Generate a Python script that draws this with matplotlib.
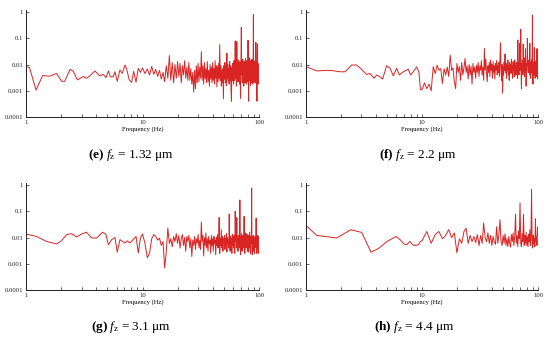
import matplotlib
matplotlib.use("Agg")
import matplotlib.pyplot as plt
from matplotlib.ticker import FixedLocator, NullFormatter

# shared 0.5 Hz grid for panels e, f, g (10 .. 100 Hz)
freq_hi = [
    10.0, 10.5, 11.0, 11.5, 12.0, 12.5, 13.0, 13.5, 14.0, 14.5,
    15.0, 15.5, 16.0, 16.5, 17.0, 17.5, 18.0, 18.5, 19.0, 19.5,
    20.0, 20.5, 21.0, 21.5, 22.0, 22.5, 23.0, 23.5, 24.0, 24.5,
    25.0, 25.5, 26.0, 26.5, 27.0, 27.5, 28.0, 28.5, 29.0, 29.5,
    30.0, 30.5, 31.0, 31.5, 32.0, 32.5, 33.0, 33.5, 34.0, 34.5,
    35.0, 35.5, 36.0, 36.5, 37.0, 37.5, 38.0, 38.5, 39.0, 39.5,
    40.0, 40.5, 41.0, 41.5, 42.0, 42.5, 43.0, 43.5, 44.0, 44.5,
    45.0, 45.5, 46.0, 46.5, 47.0, 47.5, 48.0, 48.5, 49.0, 49.5,
    50.0, 50.5, 51.0, 51.5, 52.0, 52.5, 53.0, 53.5, 54.0, 54.5,
    55.0, 55.5, 56.0, 56.5, 57.0, 57.5, 58.0, 58.5, 59.0, 59.5,
    60.0, 60.5, 61.0, 61.5, 62.0, 62.5, 63.0, 63.5, 64.0, 64.5,
    65.0, 65.5, 66.0, 66.5, 67.0, 67.5, 68.0, 68.5, 69.0, 69.5,
    70.0, 70.5, 71.0, 71.5, 72.0, 72.5, 73.0, 73.5, 74.0, 74.5,
    75.0, 75.5, 76.0, 76.5, 77.0, 77.5, 78.0, 78.5, 79.0, 79.5,
    80.0, 80.5, 81.0, 81.5, 82.0, 82.5, 83.0, 83.5, 84.0, 84.5,
    85.0, 85.5, 86.0, 86.5, 87.0, 87.5, 88.0, 88.5, 89.0, 89.5,
    90.0, 90.5, 91.0, 91.5, 92.0, 92.5, 93.0, 93.5, 94.0, 94.5,
    95.0, 95.5, 96.0, 96.5, 97.0, 97.5, 98.0, 98.5, 99.0, 99.5,
    100.0,
]

# 1 Hz grid for panel h (10 .. 100 Hz)
freq_h_hi = [
    10, 11, 12, 13, 14, 15, 16, 17, 18, 19,
    20, 21, 22, 23, 24, 25, 26, 27, 28, 29,
    30, 31, 32, 33, 34, 35, 36, 37, 38, 39,
    40, 41, 42, 43, 44, 45, 46, 47, 48, 49,
    50, 51, 52, 53, 54, 55, 56, 57, 58, 59,
    60, 61, 62, 63, 64, 65, 66, 67, 68, 69,
    70, 71, 72, 73, 74, 75, 76, 77, 78, 79,
    80, 81, 82, 83, 84, 85, 86, 87, 88, 89,
    90, 91, 92, 93, 94, 95, 96, 97, 98, 99,
    100,
]

# (e) fz = 1.32 um
freq_e_lo = [1.0, 1.07, 1.22, 1.39, 1.61, 1.83, 2.02, 2.15, 2.39, 2.55, 2.76, 3.1, 3.3,
             3.54, 3.9, 4.1, 4.3, 4.6, 4.86, 5.1, 5.3, 5.6, 5.8, 6.07, 6.4, 6.7, 7.07,
             7.3, 7.7, 8.07, 8.4, 8.8, 9.2, 9.6]
amp_e_lo = [0.0083, 0.0078, 0.00107, 0.0038, 0.0036, 0.0046, 0.0023, 0.0023, 0.0066, 0.0055,
            0.0026, 0.0035, 0.003, 0.0037, 0.0057, 0.0046, 0.0037, 0.0042, 0.0032, 0.0057,
            0.0034, 0.0034, 0.0053, 0.0023, 0.0062, 0.0046, 0.0096, 0.0068, 0.0026, 0.0021,
            0.0055, 0.0021, 0.0072, 0.005]
amp_e_hi = [
    0.0075, 0.0045, 0.0068, 0.004, 0.0085, 0.0042, 0.0065, 0.0035, 0.006, 0.0028,
    0.005, 0.0022, 0.009, 0.003, 0.022, 0.0025, 0.012, 0.002, 0.01, 0.003,
    0.013, 0.0035, 0.011, 0.002, 0.009, 0.004, 0.014, 0.003, 0.008, 0.0025,
    0.012, 0.0025, 0.007, 0.0018, 0.005, 0.0009, 0.006, 0.0012, 0.009, 0.002,
    0.011, 0.0022, 0.008, 0.003, 0.031, 0.0025, 0.009, 0.0018, 0.012, 0.0028,
    0.007, 0.002, 0.013, 0.0023, 0.006, 0.0015, 0.01, 0.0028, 0.008, 0.002,
    0.012, 0.0025, 0.007, 0.0018, 0.014, 0.003, 0.009, 0.0014, 0.008, 0.0022,
    0.011, 0.003, 0.058, 0.0025, 0.009, 0.0015, 0.006, 0.002, 0.007, 0.0005,
    0.009, 0.0028, 0.012, 0.002, 0.008, 0.0016, 0.027, 0.003, 0.01, 0.0022,
    0.007, 0.0018, 0.013, 0.0025, 0.009, 0.0012, 0.0004, 0.008, 0.0025, 0.011,
    0.006, 0.0018, 0.014, 0.0025, 0.006, 0.08, 0.003, 0.01, 0.0015, 0.075,
    0.004, 0.011, 0.0022, 0.015, 0.003, 0.009, 0.0018, 0.013, 0.0025, 0.0005,
    0.008, 0.26, 0.004, 0.012, 0.002, 0.016, 0.0028, 0.009, 0.0015, 0.013,
    0.003, 0.011, 0.002, 0.017, 0.0035, 0.008, 0.0018, 0.014, 0.0025, 0.01,
    0.0022, 0.085, 0.003, 0.0004, 0.012, 0.0025, 0.018, 0.003, 0.009, 0.0016,
    0.014, 0.0028, 0.011, 0.002, 0.016, 0.003, 0.009, 0.0018, 0.012, 0.8,
    0.004, 0.0022, 0.013, 0.0025, 0.01, 0.002, 0.012, 0.0026, 0.07, 0.003,
    0.012, 0.002, 0.0004, 0.009, 0.06, 0.0028, 0.011, 0.0018, 0.009, 0.002,
    0.006,
]

# (f) fz = 2.2 um
freq_f_lo = [1.0, 1.24, 1.5, 1.72, 1.96, 2.17, 2.48, 2.73, 3.0, 3.33, 3.56, 3.86, 4.07, 4.3,
             4.58, 4.96, 5.3, 5.66, 6.05, 6.37, 6.9, 7.3, 7.6, 7.98, 8.4, 8.98, 9.4, 9.7]
amp_f_lo = [0.0083, 0.0057, 0.006, 0.0058, 0.0053, 0.0053, 0.0096, 0.0096, 0.0067, 0.0042,
            0.0046, 0.003, 0.004, 0.0035, 0.0028, 0.0091, 0.0072, 0.0037, 0.0072, 0.004,
            0.0053, 0.006, 0.0067, 0.004, 0.0053, 0.0081, 0.0053, 0.0011]
amp_f_hi = [
    0.0011, 0.002, 0.0012, 0.0018, 0.001, 0.0083, 0.0045, 0.0095, 0.006, 0.007,
    0.0019, 0.0068, 0.004, 0.008, 0.0035, 0.023, 0.006, 0.0075, 0.0022, 0.0012,
    0.011, 0.005, 0.0085, 0.0025, 0.012, 0.004, 0.0075, 0.017, 0.005, 0.009,
    0.0028, 0.01, 0.004, 0.0085, 0.0018, 0.011, 0.005, 0.008, 0.003, 0.0095,
    0.005, 0.012, 0.0035, 0.009, 0.006, 0.014, 0.004, 0.008, 0.0025, 0.041,
    0.006, 0.016, 0.0045, 0.0022, 0.009, 0.005, 0.012, 0.0035, 0.015, 0.006,
    0.01, 0.003, 0.013, 0.005, 0.009, 0.0028, 0.011, 0.006, 0.014, 0.004,
    0.009, 0.005, 0.012, 0.0035, 0.018, 0.068, 0.006, 0.0025, 0.01, 0.0008,
    0.008, 0.004, 0.012, 0.006, 0.025, 0.005, 0.009, 0.003, 0.011, 0.006,
    0.015, 0.004, 0.009, 0.0025, 0.012, 0.006, 0.01, 0.0045, 0.016, 0.005,
    0.009, 0.003, 0.013, 0.006, 0.011, 0.0035, 0.015, 0.005, 0.009, 0.004,
    0.012, 0.006, 0.01, 0.003, 0.086, 0.007, 0.012, 0.004, 0.01, 0.064,
    0.006, 0.008, 0.22, 0.005, 0.0012, 0.011, 0.006, 0.014, 0.004, 0.06,
    0.012, 0.005, 0.018, 0.0035, 0.01, 0.006, 0.04, 0.007, 0.0015, 0.011,
    0.006, 0.013, 0.1, 0.009, 0.015, 0.005, 0.011, 0.007, 0.014, 0.004,
    0.064, 0.006, 0.012, 0.003, 0.01, 0.007, 0.015, 0.005, 0.011, 0.77,
    0.005, 0.0018, 0.012, 0.007, 0.009, 0.004, 0.044, 0.006, 0.011, 0.003,
    0.013, 0.006, 0.009, 0.0035, 0.014, 0.005, 0.04, 0.004, 0.0028, 0.012,
    0.04,
]

# (g) fz = 3.1 um
freq_g_lo = [1.0, 1.23, 1.5, 1.83, 2.02, 2.23, 2.47, 2.72, 3.0, 3.3, 3.66, 4.04, 4.55, 4.86,
             5.1, 5.43, 5.8, 6.07, 6.4, 6.75, 7.07, 7.4, 7.8, 8.3, 8.8, 9.2, 9.6]
amp_g_lo = [0.0136, 0.011, 0.0071, 0.0057, 0.0076, 0.013, 0.014, 0.0105, 0.0136, 0.016,
            0.0096, 0.0096, 0.016, 0.013, 0.0053, 0.0083, 0.01, 0.0028, 0.0083, 0.0071,
            0.0062, 0.0075, 0.0062, 0.0083, 0.011, 0.0026, 0.0096]
amp_g_hi = [
    0.0136, 0.006, 0.0017, 0.0026, 0.009, 0.013, 0.011, 0.008, 0.0095, 0.005,
    0.007, 0.0007, 0.003, 0.023, 0.006, 0.009, 0.0045, 0.011, 0.007, 0.014,
    0.006, 0.012, 0.004, 0.009, 0.013, 0.005, 0.01, 0.003, 0.011, 0.007,
    0.012, 0.004, 0.009, 0.0019, 0.008, 0.005, 0.011, 0.0035, 0.009, 0.006,
    0.013, 0.004, 0.008, 0.0035, 0.039, 0.007, 0.012, 0.002, 0.01, 0.005,
    0.015, 0.004, 0.009, 0.003, 0.011, 0.006, 0.008, 0.0025, 0.012, 0.005,
    0.009, 0.003, 0.011, 0.006, 0.008, 0.0022, 0.01, 0.005, 0.013, 0.004,
    0.008, 0.058, 0.0025, 0.009, 0.005, 0.02, 0.004, 0.011, 0.003, 0.009,
    0.006, 0.012, 0.0035, 0.009, 0.005, 0.014, 0.0028, 0.01, 0.006, 0.008,
    0.004, 0.079, 0.005, 0.003, 0.011, 0.006, 0.009, 0.0025, 0.013, 0.005,
    0.01, 0.004, 0.012, 0.006, 0.0025, 0.1, 0.007, 0.011, 0.004, 0.058,
    0.005, 0.009, 0.003, 0.012, 0.006, 0.01, 0.004, 0.27, 0.008, 0.0022,
    0.011, 0.005, 0.014, 0.003, 0.009, 0.006, 0.012, 0.004, 0.01, 0.064,
    0.006, 0.0025, 0.011, 0.005, 0.015, 0.004, 0.009, 0.006, 0.013, 0.003,
    0.01, 0.005, 0.012, 0.0028, 0.009, 0.006, 0.016, 0.004, 0.011, 0.0025,
    0.009, 0.006, 0.013, 0.77, 0.005, 0.0022, 0.011, 0.006, 0.009, 0.003,
    0.012, 0.005, 0.008, 0.0025, 0.01, 0.006, 0.011, 0.004, 0.009, 0.055,
    0.005, 0.0025, 0.01, 0.006, 0.012, 0.004, 0.009, 0.0025, 0.011, 0.006,
    0.008,
]

# (h) fz = 4.4 um
freq_h_lo = [1.0, 1.24, 1.84, 2.43, 3.02, 3.63, 4.2, 5.0, 5.97, 6.47, 7.0, 7.37, 7.87, 8.3,
             8.7, 9.3, 9.7]
amp_h_lo = [0.029, 0.012, 0.0096, 0.0198, 0.0157, 0.0028, 0.0038, 0.0071, 0.011, 0.0083,
            0.0057, 0.0053, 0.0071, 0.0053, 0.005, 0.0053, 0.0071]
amp_h_hi = [
    0.0075, 0.017, 0.006, 0.013, 0.017, 0.009, 0.012, 0.02, 0.01, 0.015,
    0.0026, 0.009, 0.006, 0.017, 0.023, 0.006, 0.012, 0.007, 0.011, 0.0065,
    0.013, 0.005, 0.012, 0.006, 0.036, 0.01, 0.007, 0.015, 0.006, 0.012,
    0.005, 0.011, 0.007, 0.0055, 0.026, 0.006, 0.013, 0.048, 0.007, 0.005,
    0.012, 0.006, 0.014, 0.005, 0.009, 0.0045, 0.011, 0.006, 0.0043, 0.013,
    0.007, 0.015, 0.005, 0.011, 0.077, 0.006, 0.012, 0.0045, 0.018, 0.009,
    0.21, 0.006, 0.0045, 0.014, 0.007, 0.077, 0.005, 0.012, 0.006, 0.016,
    0.005, 0.011, 0.0045, 0.013, 0.007, 0.02, 0.005, 0.01, 0.69, 0.006,
    0.004, 0.012, 0.006, 0.009, 0.0045, 0.052, 0.007, 0.011, 0.005, 0.025,
    0.012,
]

captions = ["(e)", "(f)", "(g)", "(h)"]
fz_labels = ["1.32", "2.2", "3.1", "4.4"]

plt.rcParams["mathtext.fontset"] = "custom"
plt.rcParams["mathtext.rm"] = "Liberation Serif"
plt.rcParams["mathtext.it"] = "Liberation Serif:italic"
plt.rcParams["mathtext.bf"] = "Liberation Serif:bold"
SERIF = "Liberation Serif"
RED = "#d92424"

panels = [
    (freq_e_lo + freq_hi, amp_e_lo + amp_e_hi),
    (freq_f_lo + freq_hi, amp_f_lo + amp_f_hi),
    (freq_g_lo + freq_hi, amp_g_lo + amp_g_hi),
    (freq_h_lo + freq_h_hi, amp_h_lo + amp_h_hi),
]

W, H = 550, 342
fig = plt.figure(figsize=(W / 100, H / 100), dpi=100)
# axes boxes in pixels: left, right, top, bottom
boxes = [(26, 259, 10, 117), (306, 538, 10, 117), (26, 259, 183, 290), (306, 538, 183, 290)]
cap_pos = [(131, 155), (418, 155), (131, 327), (414, 327)]

for i, ((fr, am), (l, r, t, b)) in enumerate(zip(panels, boxes)):
    ax = fig.add_axes([l / W, 1 - b / H, (r - l) / W, (b - t) / H])
    ax.plot(fr, am, color=RED, lw=0.7)
    ax.set_xscale("log")
    ax.set_yscale("log")
    ax.set_xlim(1, 100)
    ax.set_ylim(1e-4, 1.2)
    for s in ("top", "right"):
        ax.spines[s].set_visible(False)
    for s in ("left", "bottom"):
        ax.spines[s].set_linewidth(0.7)
        ax.spines[s].set_color("#222222")
    ax.set_xticks([1, 10, 100])
    ax.set_xticklabels(["1", "10", "100"])
    ax.xaxis.set_minor_locator(FixedLocator([2, 3, 4, 5, 6, 7, 8, 9,
                                             20, 30, 40, 50, 60, 70, 80, 90]))
    ax.xaxis.set_minor_formatter(NullFormatter())
    ax.set_yticks([1e-4, 1e-3, 1e-2, 1e-1, 1])
    ax.set_yticklabels(["0.0001", "0.001", "0.01", "0.1", "1"])
    ax.yaxis.set_minor_locator(FixedLocator([]))
    ax.tick_params(which="both", direction="in", length=2, width=0.5, pad=2,
                   labelsize=4.8, colors="#222222")
    for lab in ax.get_xticklabels() + ax.get_yticklabels():
        lab.set_fontfamily(SERIF)
    ax.set_xlabel("Frequency (Hz)", fontsize=4.8, fontfamily=SERIF, labelpad=1)

    cx, cy = cap_pos[i]
    txt = r"$\mathbf{" + captions[i] + r"}$ $f_{\mathrm{z}}$ = " + fz_labels[i] + " μm"
    fig.text(cx / W, 1 - cy / H, txt, ha="center", va="center",
             fontsize=9.5, fontfamily=SERIF)

fig.savefig("out.png", dpi=100)
